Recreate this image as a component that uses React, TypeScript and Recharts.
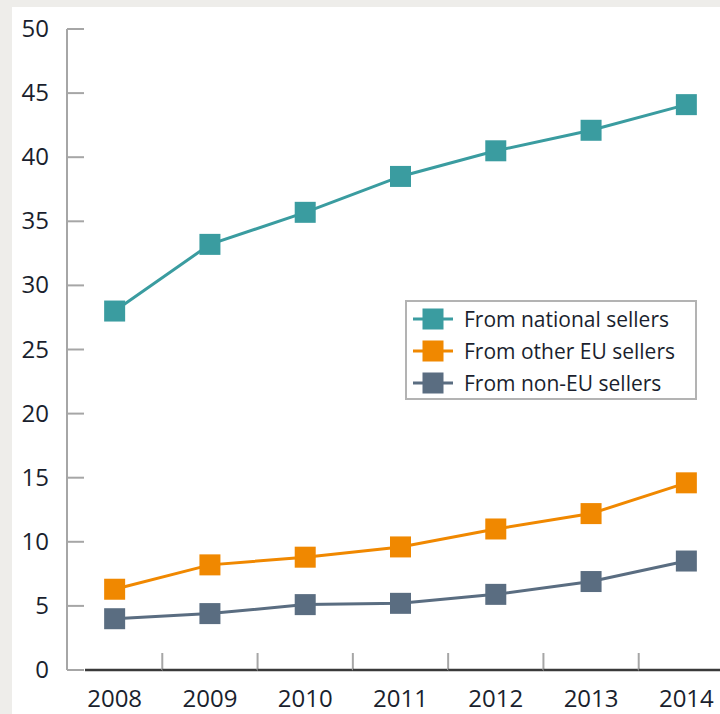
import React from "react"
import {
  LineChart,
  Line,
  XAxis,
  YAxis,
  Legend,
} from "recharts"

const years = ["2008", "2009", "2010", "2011", "2012", "2013", "2014"]
const nationalSellers = [28.0, 33.2, 35.7, 38.5, 40.5, 42.1, 44.1]
const otherEuSellers = [6.3, 8.2, 8.8, 9.6, 11.0, 12.2, 14.6]
const nonEuSellers = [4.0, 4.4, 5.1, 5.2, 5.9, 6.9, 8.5]
const yTicks = [0, 5, 10, 15, 20, 25, 30, 35, 40, 45, 50]
const seriesNames = ["From national sellers", "From other EU sellers", "From non-EU sellers"]

const data = years.map((year, i) => ({
  year,
  national: nationalSellers[i],
  otherEu: otherEuSellers[i],
  nonEu: nonEuSellers[i],
}))

const CHART_W = 734
const CHART_H = 714
const Y_AXIS_W = 67
const BAND = (CHART_W - Y_AXIS_W) / years.length
const FONT = "'Open Sans', sans-serif"
const AXIS_GRAY = "#a6a6a6"
const TEXT = "#1a1f2e"

const TEAL = "#3a9ca0"
const ORANGE = "#f08800"
const SLATE = "#5a6d81"

const SquareDot = (color: string) => (props: any) => {
  const { cx, cy, index } = props
  if (cx == null || cy == null) return <g key={`d-${index}`} />
  return <rect key={`d-${index}`} x={cx - 10.5} y={cy - 10.5} width={21} height={21} fill={color} />
}

const YTick = ({ x, y, payload }: any) => (
  <g>
    <line x1={x + 18} x2={x + 35} y1={y} y2={y} stroke={AXIS_GRAY} strokeWidth={2} />
    <text x={x} y={y} dy={8} textAnchor="end" fontSize={24} fill={TEXT} fontFamily={FONT}>
      {payload.value}
    </text>
  </g>
)

const XTick = ({ x, y, payload, index }: any) => {
  const start = index === 0 ? x - BAND / 2 + 18 : x - BAND / 2
  return (
    <g>
      <line x1={start} x2={x + BAND / 2} y1={y} y2={y} stroke="#3a3a3a" strokeWidth={2.5} />
      <line x1={x + BAND / 2} x2={x + BAND / 2} y1={y - 17} y2={y} stroke={AXIS_GRAY} strokeWidth={2} />
      <text x={x} y={y} dy={37} textAnchor="middle" fontSize={24} fill={TEXT} fontFamily={FONT}>
        {payload.value}
      </text>
    </g>
  )
}

const LegendBox = ({ payload }: any) => {
  const items = [...(payload || [])].sort(
    (a: any, b: any) => seriesNames.indexOf(a.value) - seriesNames.indexOf(b.value)
  )
  return (
    <div
      style={{
        border: "2px solid #b3b3b3",
        background: "#fff",
        width: 288,
        height: 95,
        paddingTop: 1,
        fontFamily: FONT,
      }}
    >
      {items.map((entry: any) => (
        <div key={entry.value} style={{ display: "flex", alignItems: "center", height: 32 }}>
          <svg width={40} height={22} style={{ marginLeft: 6, marginRight: 11 }}>
            <line x1={0} x2={40} y1={11} y2={11} stroke={entry.color} strokeWidth={3} />
            <rect x={9.5} y={0.5} width={21} height={21} fill={entry.color} />
          </svg>
          <span style={{ fontSize: 21, color: TEXT, lineHeight: "32px", whiteSpace: "nowrap" }}>
            {entry.value}
          </span>
        </div>
      ))}
    </div>
  )
}

export default function App() {
  return (
    <div
      style={{
        position: "fixed",
        left: 0,
        top: 0,
        width: 720,
        height: 714,
        overflow: "hidden",
        background: "#eeedea",
      }}
    >
      <div style={{ position: "absolute", left: 12, top: 7, right: 0, bottom: 0, background: "#fff" }} />
      <div style={{ position: "absolute", left: 0, top: 0 }}>
        <LineChart
          width={CHART_W}
          height={CHART_H}
          data={data}
          margin={{ top: 29, right: 0, left: 0, bottom: 0 }}
        >
          <XAxis
            dataKey="year"
            scale="band"
            axisLine={false}
            tickLine={false}
            tickSize={0}
            tickMargin={0}
            height={44}
            interval={0}
            tick={<XTick />}
          />
          <YAxis
            domain={[0, 50]}
            ticks={yTicks}
            width={Y_AXIS_W}
            axisLine={{ stroke: AXIS_GRAY, strokeWidth: 2 }}
            tickLine={false}
            tickSize={0}
            tickMargin={18}
            interval={0}
            tick={<YTick />}
          />
          <Legend
            layout="horizontal"
            verticalAlign="middle"
            align="center"
            wrapperStyle={{ left: 405, top: 300, width: 292, height: 99 }}
            content={<LegendBox />}
          />
          <Line
            name={seriesNames[0]}
            dataKey="national"
            stroke={TEAL}
            strokeWidth={3}
            dot={SquareDot(TEAL)}
            activeDot={false}
            isAnimationActive={false}
          />
          <Line
            name={seriesNames[1]}
            dataKey="otherEu"
            stroke={ORANGE}
            strokeWidth={3}
            dot={SquareDot(ORANGE)}
            activeDot={false}
            isAnimationActive={false}
          />
          <Line
            name={seriesNames[2]}
            dataKey="nonEu"
            stroke={SLATE}
            strokeWidth={3}
            dot={SquareDot(SLATE)}
            activeDot={false}
            isAnimationActive={false}
          />
        </LineChart>
      </div>
    </div>
  )
}
